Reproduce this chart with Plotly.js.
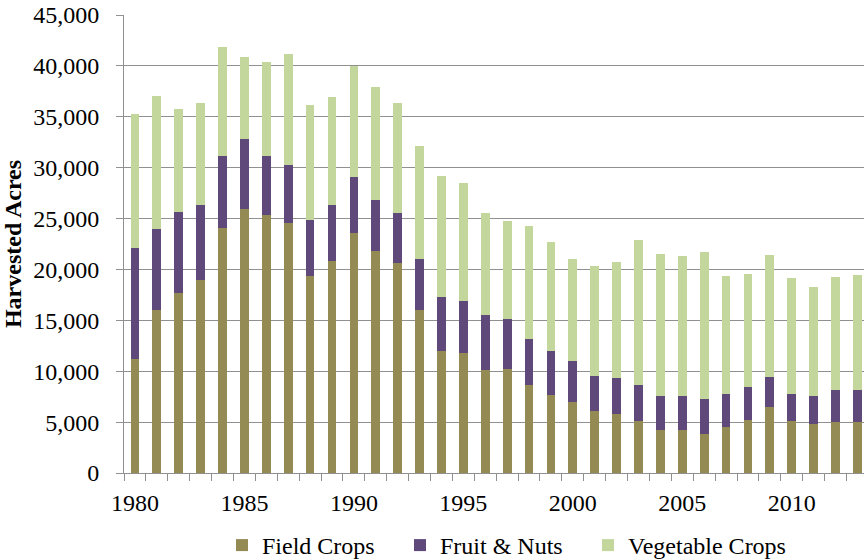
<!DOCTYPE html>
<html>
<head>
<meta charset="utf-8">
<script src="https://cdn.plot.ly/plotly-3.0.1.min.js"></script>
<style>html,body{margin:0;padding:0;background:#fff;}#chart{width:864px;height:560px;}</style>
</head>
<body>
<div id="chart"></div>
<script>
var years = [1980,1981,1982,1983,1984,1985,1986,1987,1988,1989,1990,1991,1992,1993,1994,1995,1996,1997,1998,1999,2000,2001,2002,2003,2004,2005,2006,2007,2008,2009,2010,2011,2012,2013];
var fieldCrops = [11170,16050,17720,18960,24110,25910,25350,24600,19330,20870,23550,21780,20630,16050,11990,11760,10160,10260,8690,7700,7020,6130,5770,5110,4200,4200,3870,4560,5250,6460,5080,4850,4980,4980];
var fruitNuts = [10910,7920,7960,7370,7070,6880,5830,5700,5530,5460,5500,5010,4950,5020,5270,5110,5400,4840,4480,4260,4020,3440,3560,3580,3340,3340,3370,3200,3200,3010,2680,2690,3150,3150];
var vegetableCrops = [13160,13070,10050,10060,10710,8080,9240,10910,11300,10610,10910,11170,10810,11030,11920,11640,10020,9660,11140,10710,10030,10810,11400,14170,13950,13750,14510,11630,11140,11920,11400,10710,11130,11360];
var xTickVals = [1980,1985,1990,1995,2000,2005,2010];
var xTickText = ['1980','1985','1990','1995','2000','2005','2010'];
var seriesNames = ['Field Crops','Fruit & Nuts','Vegetable Crops'];
var seriesColors = ['#948A54','#5F497A','#C3D69B'];

var font = 'Liberation Serif, Times New Roman, serif';
var legendIds = ['legend','legend2','legend3'];
var traces = [fieldCrops, fruitNuts, vegetableCrops].map(function(v, i){
  return {type:'bar', x: years, y: v, name: seriesNames[i], marker:{color: seriesColors[i]}, legend: legendIds[i]};
});
function leg(x){
  return {orientation:'h', xref:'container', yref:'container', x:x, xanchor:'left', y:1-545.5/560, yanchor:'middle',
          font:{family:font, size:24, color:'#000'}, bgcolor:'rgba(0,0,0,0)', borderwidth:0};
}
var layout = {
  width:864, height:560,
  barmode:'stack', bargap:0.6,
  margin:{l:124, r:0, t:15, b:87},
  paper_bgcolor:'#fff', plot_bgcolor:'#fff',
  font:{family:font, size:24, color:'#000'},
  showlegend:true,
  legend:leg(222/864), legend2:leg(400/864), legend3:leg(588/864),
  xaxis:{
    type:'linear', range:[1979.5, 2013.3], tickmode:'array', tickvals:xTickVals, ticktext:xTickText,
    ticks:'outside', ticklen:8, tickcolor:'rgba(0,0,0,0)', showgrid:false, zeroline:false, showline:true, linecolor:'#909090', linewidth:1,
    minor:{tickmode:'linear', tick0:1979.5, dtick:1, ticks:'outside', ticklen:7, tickcolor:'#909090', showgrid:false},
    tickfont:{family:font, size:24, color:'#000'}
  },
  yaxis:{
    range:[0,45000], tickmode:'linear', tick0:0, dtick:5000, tickformat:',d',
    ticks:'outside', ticklen:7, tickcolor:'#909090', ticklabelstandoff:12,
    showgrid:true, gridcolor:'#909090', gridwidth:1, zeroline:false,
    showline:true, linecolor:'#909090', linewidth:1,
    tickfont:{family:font, size:24, color:'#000'},
    title:{text:'<b>Harvested Acres</b>', font:{family:font, size:24, color:'#000'}, standoff:10}
  }
};
Plotly.newPlot('chart', traces, layout, {displayModeBar:false, staticPlot:true});
</script>
</body>
</html>
